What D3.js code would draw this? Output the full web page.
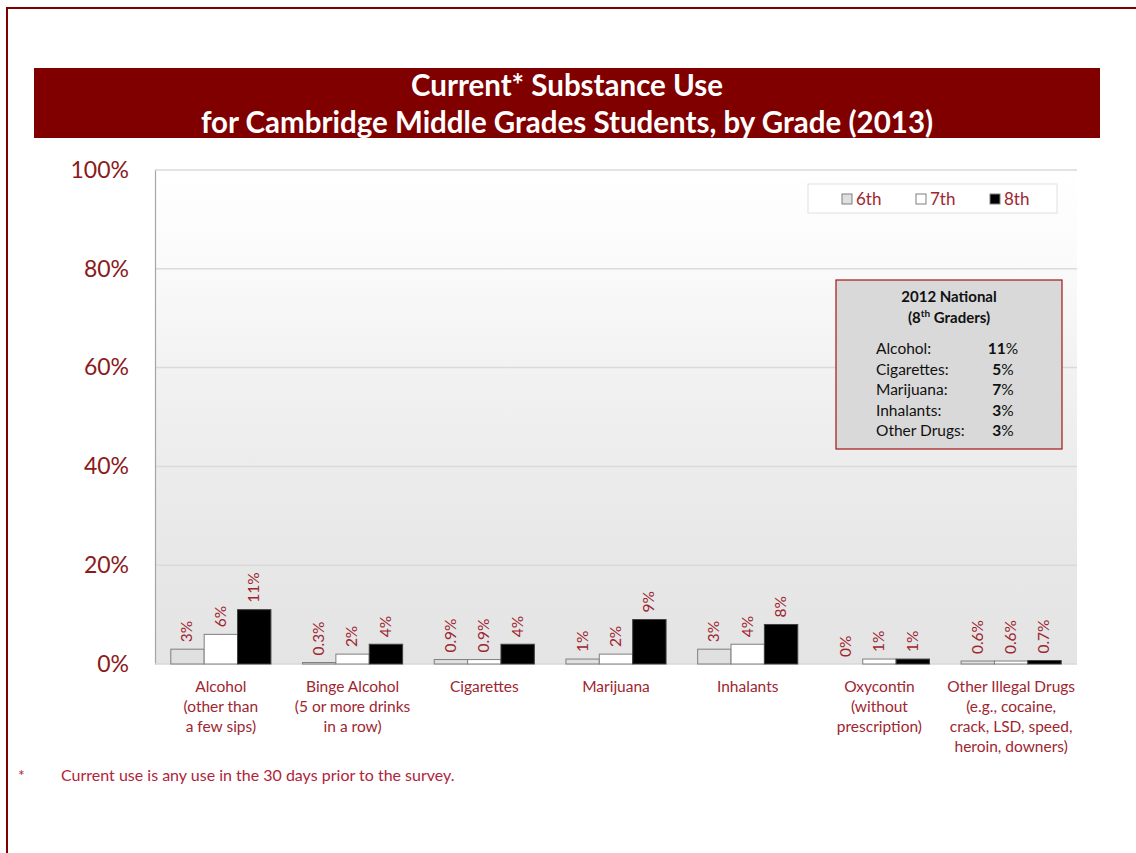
<!DOCTYPE html>
<html>
<head>
<meta charset="utf-8">
<script src="https://cdn.jsdelivr.net/npm/d3@7"></script>
<style>
  html, body { margin: 0; padding: 0; background: #fff; }
  svg { display: block; font-family: Lato, "Open Sans", sans-serif; }
</style>
</head>
<body>
<svg id="chart" width="1136" height="853"></svg>
<script>
// Substance categories (x-axis), one label line per entry
const categories = [
  ["Alcohol", "(other than", "a few sips)"],
  ["Binge Alcohol", "(5 or more drinks", "in a row)"],
  ["Cigarettes"],
  ["Marijuana"],
  ["Inhalants"],
  ["Oxycontin", "(without", "prescription)"],
  ["Other Illegal Drugs", "(e.g., cocaine,", "crack, LSD, speed,", "heroin, downers)"]
];
const grades = ["6th", "7th", "8th"];

// Percent of students reporting current use, per grade
const grade6 = [3, 0.3, 0.9, 1, 3, 0, 0.6];
const grade7 = [6, 2, 0.9, 2, 4, 1, 0.6];
const grade8 = [11, 4, 4, 9, 8, 1, 0.7];

const yTicks = [0, 20, 40, 60, 80, 100];

// 2012 national comparison, 8th graders
const nationalLabels = ["Alcohol:", "Cigarettes:", "Marijuana:", "Inhalants:", "Other Drugs:"];
const nationalValues = [11, 5, 7, 3, 3];

const series = [grade6, grade7, grade8];
const fills = ["#e0e0e0", "#ffffff", "#000000"];
const darkRed = "#800000";
const labelRed = "#9e2630";

const svg = d3.select("#chart");

// outer frame
svg.append("path")
  .attr("d", "M7,853 L7,8 L1136,8")
  .attr("fill", "none")
  .attr("stroke", "#7f0000")
  .attr("stroke-width", 2);

// title band
svg.append("rect")
  .attr("x", 34).attr("y", 68).attr("width", 1066).attr("height", 70)
  .attr("fill", darkRed);
const title = svg.append("text")
  .attr("text-anchor", "middle")
  .attr("fill", "#fff")
  .attr("font-weight", "bold")
  .attr("font-size", 29.5);
title.append("tspan").attr("x", 567).attr("y", 96).text("Current* Substance Use");
title.append("tspan").attr("x", 567).attr("y", 133).text("for Cambridge Middle Grades Students, by Grade (2013)");

const plot = { left: 155, right: 1077, top: 170, bottom: 664 };

const x0 = d3.scaleBand()
  .domain(d3.range(categories.length))
  .range([plot.left, plot.right])
  .paddingInner(0.24)
  .paddingOuter(0.12);
const x1 = d3.scaleBand()
  .domain(d3.range(grades.length))
  .range([0, x0.bandwidth()]);
const y = d3.scaleLinear().domain([0, 100]).range([plot.bottom, plot.top]);

// plot background gradient
const defs = svg.append("defs");
const grad = defs.append("linearGradient")
  .attr("id", "bg").attr("x1", 0).attr("y1", 0).attr("x2", 0).attr("y2", 1);
[["0%", "#ffffff"], ["20%", "#fafafa"], ["40%", "#f2f2f2"], ["60%", "#ececec"],
 ["80%", "#e7e7e7"], ["100%", "#e4e4e4"]].forEach(([o, c]) =>
  grad.append("stop").attr("offset", o).attr("stop-color", c));
svg.append("rect")
  .attr("x", plot.left).attr("y", plot.top)
  .attr("width", plot.right - plot.left).attr("height", plot.bottom - plot.top)
  .attr("fill", "url(#bg)");

// gridlines
svg.append("g")
  .selectAll("line")
  .data(yTicks.filter(t => t > 0))
  .join("line")
  .attr("x1", plot.left).attr("x2", plot.right)
  .attr("y1", d => y(d)).attr("y2", d => y(d))
  .attr("stroke", "#dadada").attr("stroke-width", 1.5);

// y axis
const yAxis = svg.append("g")
  .attr("transform", `translate(${plot.left},0)`)
  .call(d3.axisLeft(y).tickValues(yTicks).tickFormat(d => d + "%").tickSize(0).tickPadding(26));
yAxis.select(".domain").attr("stroke", "#a6a6a6").attr("stroke-width", 1.2);
yAxis.selectAll("text")
  .attr("font-family", "Lato, 'Open Sans', sans-serif")
  .attr("font-size", 23)
  .attr("fill", "#8b1a1a");

// bottom baseline
svg.append("line")
  .attr("x1", plot.left).attr("x2", plot.right)
  .attr("y1", plot.bottom).attr("y2", plot.bottom)
  .attr("stroke", "#d9d9d9").attr("stroke-width", 1.5);

// bars
const groups = svg.append("g")
  .selectAll("g")
  .data(categories.map((c, i) => i))
  .join("g")
  .attr("transform", i => `translate(${x0(i)},0)`);

groups.selectAll("rect")
  .data(i => series.map((s, g) => ({ g, v: s[i] })))
  .join("rect")
  .attr("x", d => x1(d.g))
  .attr("width", x1.bandwidth())
  .attr("y", d => y(d.v))
  .attr("height", d => y(0) - y(d.v))
  .attr("fill", d => fills[d.g])
  .attr("stroke", d => d.g === 2 ? "#404040" : "#7f7f7f")
  .attr("stroke-width", 1);

// value labels, rotated
groups.selectAll("text")
  .data(i => series.map((s, g) => ({ g, v: s[i] })))
  .join("text")
  .attr("transform", d => `translate(${x1(d.g) + x1.bandwidth() / 2 + 1},${y(d.v) - 7}) rotate(-90)`)
  .attr("dominant-baseline", "middle")
  .attr("font-size", 15.5)
  .attr("fill", labelRed)
  .text(d => d.v + "%");

// category labels
svg.append("g")
  .selectAll("text")
  .data(categories)
  .join("text")
  .attr("text-anchor", "middle")
  .attr("font-size", 15.5)
  .attr("fill", labelRed)
  .each(function (lines, i) {
    d3.select(this).selectAll("tspan")
      .data(lines)
      .join("tspan")
      .attr("x", x0(i) + x0.bandwidth() / 2)
      .attr("y", (d, k) => 692 + k * 20)
      .text(d => d);
  });

// legend
const legend = svg.append("g");
legend.append("rect")
  .attr("x", 808).attr("y", 184).attr("width", 249).attr("height", 29)
  .attr("fill", "#fff").attr("stroke", "#e0e0e0");
const legendX = [842, 916, 990];
grades.forEach((gname, g) => {
  legend.append("rect")
    .attr("x", legendX[g]).attr("y", 194).attr("width", 10).attr("height", 10)
    .attr("fill", fills[g]).attr("stroke", "#7f7f7f");
  legend.append("text")
    .attr("x", legendX[g] + 14).attr("y", 205)
    .attr("font-size", 17).attr("fill", labelRed)
    .text(gname);
});

// national comparison box
const nb = svg.append("g");
nb.append("rect")
  .attr("x", 836).attr("y", 280).attr("width", 226).attr("height", 169)
  .attr("fill", "#d9d9d9").attr("stroke", "#a31515").attr("stroke-width", 1.2);
nb.append("text")
  .attr("x", 949).attr("y", 302).attr("text-anchor", "middle")
  .attr("font-size", 15).attr("font-weight", "bold").attr("fill", "#111")
  .text("2012 National");
const sub = nb.append("text")
  .attr("x", 949).attr("y", 323).attr("text-anchor", "middle")
  .attr("font-size", 15).attr("font-weight", "bold").attr("fill", "#111");
sub.append("tspan").text("(8");
sub.append("tspan").attr("font-size", 10).attr("dy", -6).text("th");
sub.append("tspan").attr("dy", 6).text(" Graders)");

nationalLabels.forEach((lab, k) => {
  const yy = 354 + k * 20.6;
  nb.append("text")
    .attr("x", 876).attr("y", yy)
    .attr("font-size", 15.5).attr("fill", "#111")
    .text(lab);
  const t = nb.append("text")
    .attr("x", 1003).attr("y", yy).attr("text-anchor", "middle")
    .attr("font-size", 15.5).attr("fill", "#111");
  t.append("tspan").attr("font-weight", "bold").text(nationalValues[k]);
  t.append("tspan").text("%");
});

// footnote
svg.append("text")
  .attr("x", 18).attr("y", 781)
  .attr("font-size", 16).attr("fill", "#b0243a")
  .text("*");
svg.append("text")
  .attr("x", 61).attr("y", 781)
  .attr("font-size", 16).attr("fill", "#b0243a")
  .text("Current use is any use in the 30 days prior to the survey.");
</script>
</body>
</html>
